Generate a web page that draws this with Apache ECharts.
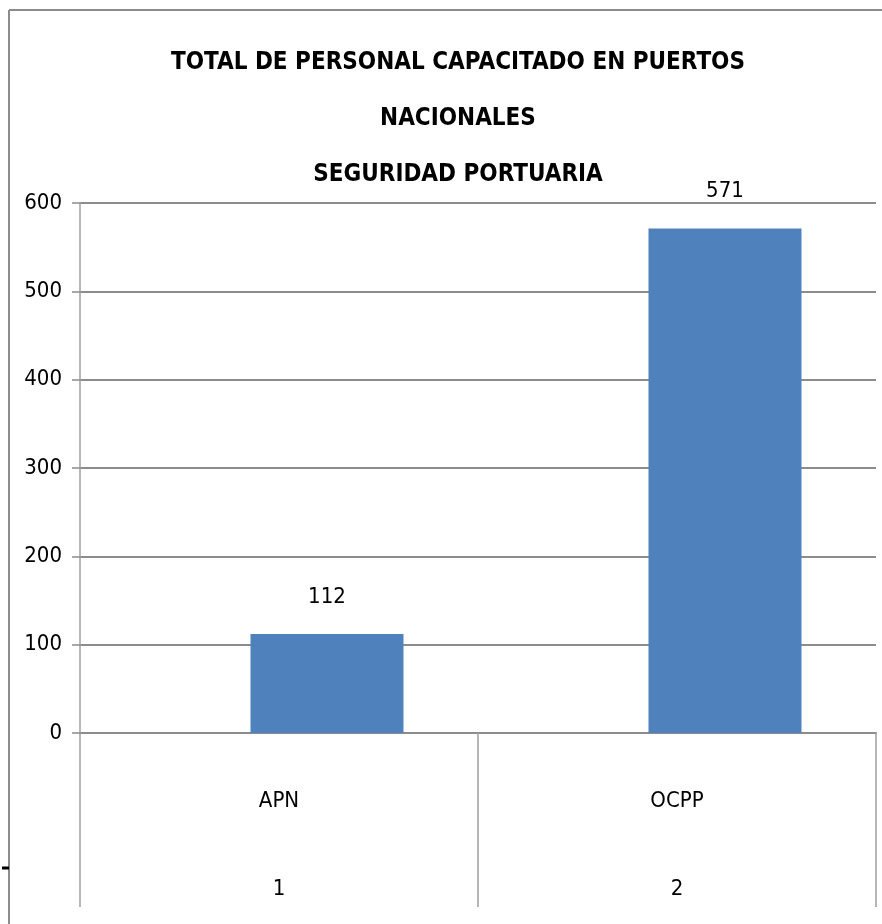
<!DOCTYPE html>
<html>
<head>
<meta charset="utf-8">
<script src="https://cdn.jsdelivr.net/npm/echarts@6/dist/echarts.min.js"></script>
<style>
  html, body { margin: 0; padding: 0; background: #fff; }
  #chart { width: 882px; height: 924px; }
</style>
</head>
<body>
<div id="chart"></div>
<script>
// datos de la grafica
var categorias = ['APN', 'OCPP'];
var numeros = ['1', '2'];
var personal = [112, 571];
var tituloLineas = ['TOTAL DE PERSONAL CAPACITADO EN PUERTOS', 'NACIONALES', 'SEGURIDAD PORTUARIA'];

var fuente = '"Liberation Sans Narrow", "DejaVu Sans Condensed", sans-serif';
var gris = '#8c8c8c';

var chart = echarts.init(document.getElementById('chart'));
var option = {
    backgroundColor: '#fff',
    animation: false,
    title: {
        text: tituloLineas.join('\n'),
        left: 453,
        textAlign: 'center',
        top: 30,
        textStyle: {
            fontFamily: fuente,
            fontWeight: 'bold',
            fontSize: 24,
            lineHeight: 56,
            color: '#000'
        }
    },
    graphic: [
        // marco del grafico
        { type: 'line', shape: { x1: 9, y1: 10, x2: 882, y2: 10 }, style: { stroke: gris, lineWidth: 2 } },
        { type: 'line', shape: { x1: 9, y1: 10, x2: 9, y2: 924 }, style: { stroke: gris, lineWidth: 2 } },
        { type: 'line', shape: { x1: 2, y1: 868, x2: 9, y2: 868 }, style: { stroke: '#000', lineWidth: 3 } }
    ],
    grid: [
        { left: 80, right: 6, top: 203, bottom: 191, outerBoundsMode: 'none' },
        // las barras van desplazadas a la derecha como en el original
        { left: 128, right: -42, top: 203, bottom: 191, outerBoundsMode: 'none' }
    ],
    xAxis: [{
        type: 'category',
        gridIndex: 0,
        data: categorias,
        axisLine: { lineStyle: { color: gris, width: 2 } },
        axisTick: { show: true, length: 174, lineStyle: { color: '#a0a0a0', width: 1.5 } },
        axisLabel: {
            margin: 24,
            fontFamily: fuente,
            fontSize: 22,
            color: '#000',
            lineHeight: 88,
            formatter: function (v, i) { return v + '\n' + numeros[i]; }
        }
    }, {
        type: 'category',
        gridIndex: 1,
        data: categorias,
        show: false
    }],
    yAxis: [{
        type: 'value',
        gridIndex: 0,
        min: 0,
        max: 600,
        interval: 100,
        axisLine: { show: true, lineStyle: { color: '#a0a0a0', width: 1.5 } },
        axisTick: { show: true, length: 8, lineStyle: { color: gris, width: 1.5 } },
        splitLine: { lineStyle: { color: gris, width: 2 } },
        axisLabel: { margin: 18, fontFamily: fuente, fontSize: 22, color: '#000' }
    }, {
        type: 'value',
        gridIndex: 1,
        min: 0,
        max: 600,
        interval: 100,
        show: false,
        splitLine: { show: false }
    }],
    series: [{
        name: 'Personal capacitado',
        type: 'bar',
        xAxisIndex: 1,
        yAxisIndex: 1,
        data: personal,
        barWidth: 153,
        itemStyle: { color: '#4f81bd' },
        label: {
            show: true,
            position: 'top',
            distance: 26,
            fontFamily: fuente,
            fontSize: 22,
            color: '#000'
        }
    }]
};
chart.setOption(option);
</script>
</body>
</html>
